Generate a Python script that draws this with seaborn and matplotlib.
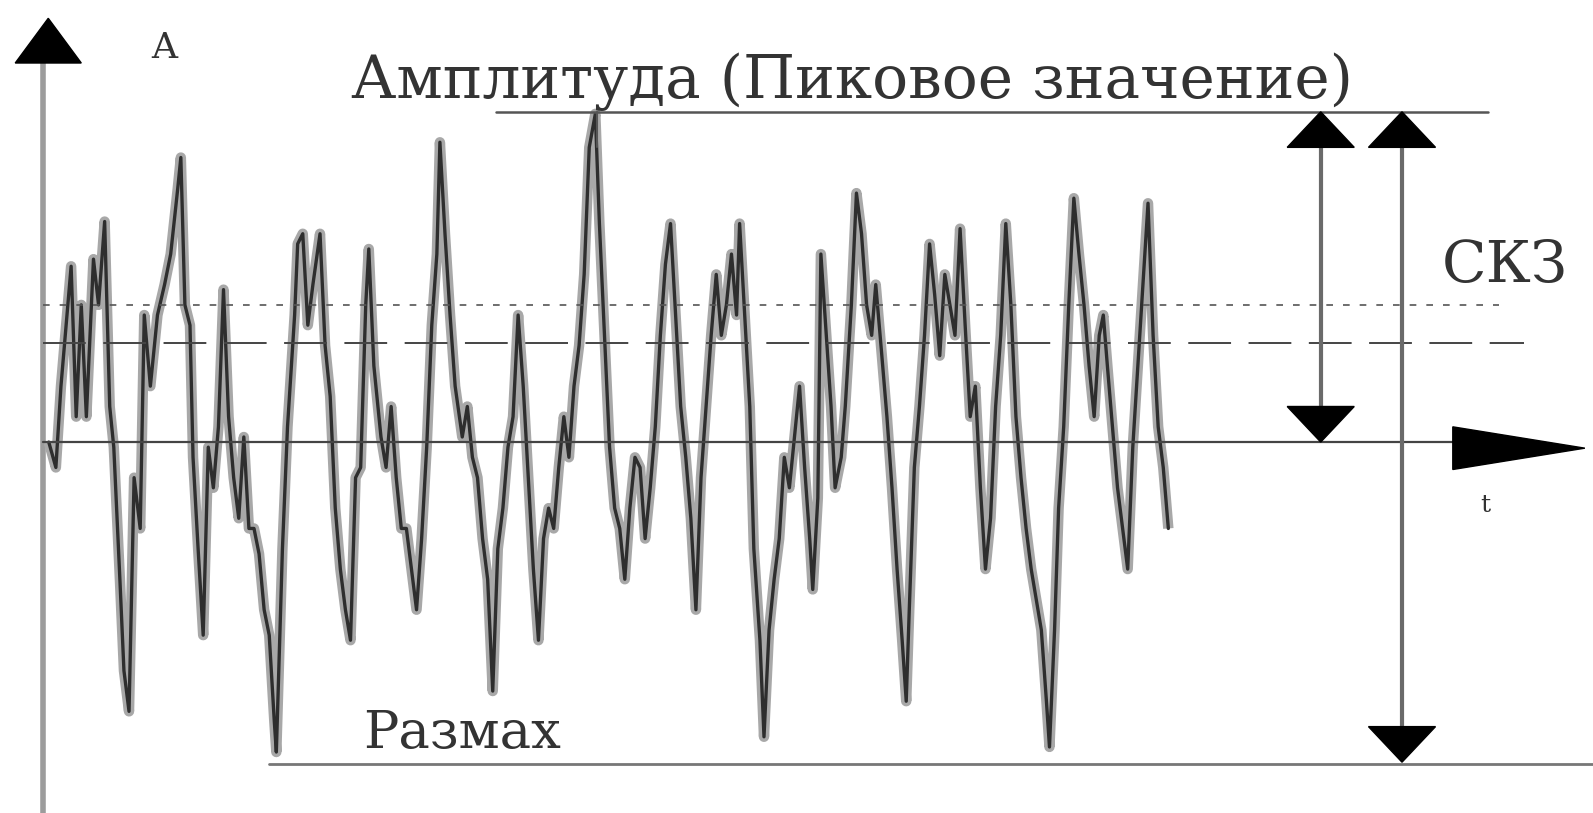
import numpy as np
import matplotlib
matplotlib.use("Agg")
import matplotlib.pyplot as plt
import seaborn as sns
import pandas as pd

# ---- data (time in ms, amplitude in arbitrary units) ----
time_ms = [3, 10, 15, 25, 30, 35, 40, 47, 52, 58, 63, 67, 73, 77, 82, 87, 93, 97, 103, 110,
           117, 123, 130, 133, 137, 142, 145, 150, 155, 160, 165, 170, 175, 180, 185, 190, 195, 200, 205, 210,
           215, 220, 225, 227, 233, 238, 245, 248, 253, 258, 263, 270, 275, 280, 285, 290, 295, 300, 305, 310,
           315, 318, 323, 330, 335, 340, 345, 350, 355, 360, 365, 370, 375, 380, 385, 388, 393, 398, 403, 410,
           415, 420, 425, 430, 435, 440, 445, 450, 455, 460, 465, 470, 475, 480, 485, 490, 495, 500, 505, 510,
           515, 520, 525, 530, 535, 541, 545, 550, 555, 560, 565, 570, 575, 580, 585, 590, 595, 600, 605, 610,
           615, 620, 625, 630, 635, 640, 645, 650, 655, 660, 665, 670, 675, 680, 683, 688, 693, 697, 703, 707,
           712, 717, 722, 727, 732, 737, 742, 747, 752, 755, 760, 763, 767, 773, 777, 783, 787, 793, 798, 803,
           808, 813, 817, 823, 828, 833, 838, 843, 847, 850, 855, 860, 865, 870, 875, 880, 885, 890, 895, 900,
           905, 910, 915, 920, 925, 930, 935, 940, 945, 950, 955, 960, 965, 970, 975, 980, 985, 988, 993, 997,
           1002, 1007, 1012, 1017, 1022, 1027, 1032, 1037, 1041, 1045, 1050, 1055, 1060, 1065, 1070, 1075, 1080,
           1085, 1090, 1095, 1100, 1105]
amplitude = [0.00, -0.25, 0.55, 1.73, 0.25, 1.35, 0.25, 1.80, 1.35, 2.17, 0.35, -0.05, -1.35, -2.25, -2.65, -0.35, -0.85, 1.25, 0.55, 1.25,
             1.55, 1.85, 2.50, 2.80, 1.35, 1.15, -0.15, -1.05, -1.90, -0.05, -0.45, 0.15, 1.50, 0.25, -0.35, -0.75, 0.05, -0.85, -0.85, -1.10,
             -1.65, -1.90, -2.75, -3.05, -1.05, 0.15, 1.25, 1.95, 2.05, 1.15, 1.55, 2.05, 0.95, 0.45, -0.65, -1.25, -1.65, -1.95, -0.35, -0.25,
             1.35, 1.90, 0.75, 0.05, -0.25, 0.35, -0.35, -0.85, -0.85, -1.25, -1.65, -0.95, -0.05, 1.15, 1.85, 2.95, 2.05, 1.25, 0.55, 0.05,
             0.35, -0.15, -0.35, -0.95, -1.35, -2.45, -1.05, -0.65, -0.05, 0.25, 1.25, 0.55, -0.35, -1.25, -1.95, -0.95, -0.65, -0.85, -0.25, 0.25,
             -0.15, 0.55, 0.95, 1.65, 2.90, 3.23, 2.15, 1.05, -0.05, -0.65, -0.85, -1.35, -0.65, -0.15, -0.25, -0.95, -0.45, 0.15, 1.05, 1.75,
             2.15, 1.25, 0.35, -0.15, -0.75, -1.65, -0.35, 0.35, 1.05, 1.65, 1.05, 1.35, 1.85, 1.25, 2.15, 1.25, 0.35, -1.05, -1.95, -2.90,
             -1.85, -1.35, -0.95, -0.15, -0.45, 0.05, 0.55, -0.25, -0.95, -1.45, -0.55, 1.85, 1.25, 0.35, -0.45, -0.15, 0.35, 1.35, 2.45, 2.05,
             1.35, 1.05, 1.55, 0.85, 0.25, -0.45, -1.25, -1.95, -2.55, -1.65, -0.25, 0.35, 1.05, 1.95, 1.45, 0.85, 1.65, 1.35, 1.05, 2.10,
             1.15, 0.25, 0.55, -0.45, -1.25, -0.75, 0.35, 1.05, 2.15, 1.35, 0.25, -0.35, -0.85, -1.25, -1.55, -1.85, -2.55, -3.00, -1.85, -0.65,
             0.15, 1.35, 2.40, 1.85, 1.35, 0.75, 0.25, 1.05, 1.25, 0.75, 0.15, -0.45, -0.85, -1.25, -0.05, 0.75, 1.55,
             2.35, 1.05, 0.15, -0.25, -0.85]

peak_value = 3.25       # Амплитуда (пиковое значение)
trough_value = -3.17    # нижняя граница размаха
rms_value = 1.35        # СКЗ (dotted)
mean_value = 0.97       # dashed level

labels = {
    "axis_y": "A",
    "title": "Амплитуда (Пиковое значение)",
    "rms": "СКЗ",
    "range": "Размах",
    "axis_x": "t",
}

df = pd.DataFrame({"t": time_ms, "a": amplitude})

sns.set_theme(style="white")
plt.rcParams["font.family"] = ["DejaVu Serif", "DejaVu Sans"]

fig = plt.figure(figsize=(15.93, 8.13), dpi=100)
ax = fig.add_axes([0, 0, 1, 1])
ax.set_xlim(-45, 1523)
ax.set_ylim(-3.65, 4.35)
ax.axis("off")

# signal: light wide stroke + dark core
sns.lineplot(data=df, x="t", y="a", sort=False, estimator=None, ax=ax,
             color="#a8a8a8", linewidth=7.5, solid_joinstyle="round", solid_capstyle="butt")
sns.lineplot(data=df, x="t", y="a", sort=False, estimator=None, ax=ax,
             color="#2e2e2e", linewidth=2.4, solid_joinstyle="round")

# y axis
ax.plot([-3, -3], [-3.65, 3.73], color="#9c9c9c", lw=4, zorder=1)
ax.fill([-30, 35, 2.5], [3.73, 3.73, 4.17], color="black", zorder=5)

# t axis
ax.plot([-3, 1390], [0, 0], color="#444444", lw=1.6, zorder=3)
ax.fill([1385, 1385, 1515], [0.15, -0.27, -0.06], color="black", zorder=5)

# level lines
ax.plot([443, 1420], [peak_value, peak_value], color="#555555", lw=1.8)
ax.plot([543, 543], [peak_value, 2.9], color="#555555", lw=1.5)
ax.plot([220, 1523], [trough_value, trough_value], color="#777777", lw=2)
ax.plot([-3, 1430], [rms_value, rms_value], color="#555555", lw=1.2, dashes=(4, 6))
ax.plot([-3, 1455], [mean_value, mean_value], color="#444444", lw=1.4, dashes=(22, 9))

# double arrows
def double_arrow(x, top, bottom):
    hw, hh = 33, 0.35
    ax.plot([x, x], [top - hh, bottom + hh], color="#6a6a6a", lw=3, zorder=4)
    ax.fill([x - hw, x + hw, x], [top - hh, top - hh, top], color="black", zorder=5)
    ax.fill([x - hw, x + hw, x], [bottom + hh, bottom + hh, bottom], color="black", zorder=5)

double_arrow(1255, peak_value, 0.0)
double_arrow(1335, peak_value, -3.15)

# texts
txt = dict(color="#333333", ha="center", va="center")
ax.text(117, 3.88, labels["axis_y"], fontsize=26, **txt)
ax.text(794, 3.55, labels["title"], fontsize=43, **txt)
ax.text(1436, 1.73, labels["rms"], fontsize=42, **txt)
ax.text(410, -2.87, labels["range"], fontsize=38, **txt)
ax.text(1417, -0.62, labels["axis_x"], fontsize=18, **txt)

fig.savefig("out.png", dpi=100, facecolor="white")
